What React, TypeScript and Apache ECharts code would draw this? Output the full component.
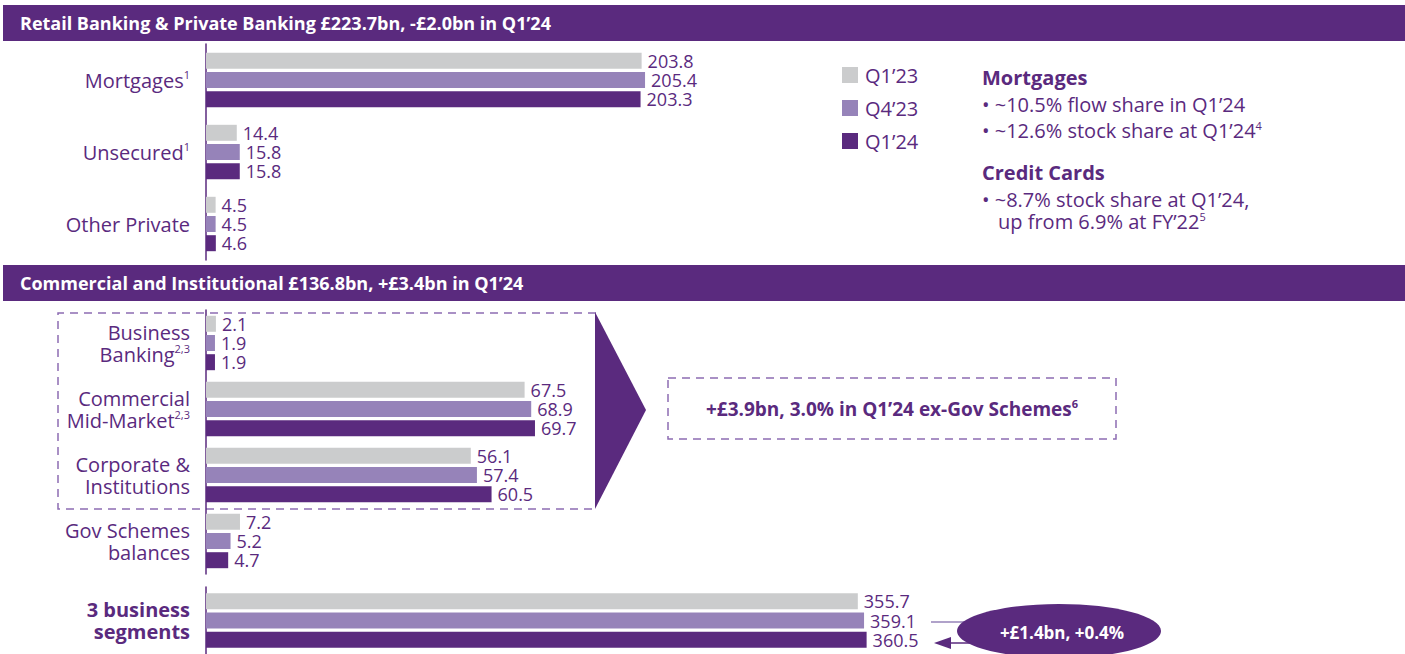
import React, { useEffect, useRef } from 'react';
import * as echarts from 'echarts';

const seriesNames = ['Q1’23', 'Q4’23', 'Q1’24'];

const retailCategories = ['Mortgages', 'Unsecured', 'Other Private'];
const retailQ123 = [203.8, 14.4, 4.5];
const retailQ423 = [205.4, 15.8, 4.5];
const retailQ124 = [203.3, 15.8, 4.6];

const commercialCategories = ['Business Banking', 'Commercial Mid-Market', 'Corporate & Institutions', 'Gov Schemes balances'];
const commercialQ123 = [2.1, 67.5, 56.1, 7.2];
const commercialQ423 = [1.9, 68.9, 57.4, 5.2];
const commercialQ124 = [1.9, 69.7, 60.5, 4.7];

const totalCategories = ['3 business segments'];
const totalQ123 = [355.7];
const totalQ423 = [359.1];
const totalQ124 = [360.5];

const labelLines: Record<string, string> = {
  'Mortgages': 'Mortgages',
  'Unsecured': 'Unsecured',
  'Other Private': 'Other Private',
  'Business Banking': 'Business\nBanking',
  'Commercial Mid-Market': 'Commercial\nMid-Market',
  'Corporate & Institutions': 'Corporate &\nInstitutions',
  'Gov Schemes balances': 'Gov Schemes\nbalances',
  '3 business segments': '3 business\nsegments',
};
const labelSup: Record<string, string> = {
  'Mortgages': '1',
  'Unsecured': '1',
  'Business Banking': '2,3',
  'Commercial Mid-Market': '2,3',
};
const boldLabels = ['3 business segments'];

const PURPLE = '#5a2a7e';
const LAVENDER = '#9683b9';
const GREY = '#cbcccd';
const DASH = '#8d6cb3';
const FONT = '"Open Sans", sans-serif';
const colors = [GREY, LAVENDER, PURPLE];

function formatCat(v: string) {
  const lines = (labelLines[v] || v).split('\n');
  const style = boldLabels.includes(v) ? 'b' : 'n';
  return lines
    .map((l, i) => `{${style}|${l}}` + (i === lines.length - 1 && labelSup[v] ? `{s|${labelSup[v]}}` : ''))
    .join('\n');
}

const richCat = {
  n: { fontSize: 20, color: PURPLE, fontFamily: FONT, lineHeight: 22 },
  b: { fontSize: 20, color: PURPLE, fontFamily: FONT, fontWeight: 'bold', lineHeight: 22 },
  s: { fontSize: 11, color: PURPLE, fontFamily: FONT, lineHeight: 11, verticalAlign: 'top' },
};

function makeSeries(gridIdx: number, data: number[][]) {
  return data.map((d, i) => ({
    type: 'bar',
    name: seriesNames[i],
    xAxisIndex: gridIdx,
    yAxisIndex: gridIdx,
    data: d,
    barWidth: 16,
    barGap: '20%',
    itemStyle: { color: colors[i] },
    label: {
      show: true,
      position: 'right',
      distance: 6,
      color: PURPLE,
      fontSize: 18,
      fontFamily: FONT,
      formatter: (p: any) => Number(p.value).toFixed(1),
    },
  }));
}

function yAxisFor(gridIdx: number, cats: string[]) {
  return {
    type: 'category',
    gridIndex: gridIdx,
    data: cats,
    inverse: true,
    axisLine: { show: true, lineStyle: { color: PURPLE, width: 1.5 } },
    axisTick: { show: false },
    axisLabel: { margin: 16, formatter: formatCat, rich: richCat },
  };
}

function xAxisFor(gridIdx: number, max: number) {
  return { type: 'value', gridIndex: gridIdx, min: 0, max, show: false, splitLine: { show: false } };
}

export default function App() {
  const ref = useRef<HTMLDivElement>(null);
  useEffect(() => {
    if (!ref.current) return;
    const chart = echarts.init(ref.current, null, { renderer: 'svg' });
    const subText = (x: number, y: number, text: string, bold = false, size = 20) => ({
      type: 'text',
      x,
      y,
      style: {
        text,
        fill: PURPLE,
        fontSize: size,
        fontWeight: bold ? 'bold' : 'normal',
        fontFamily: FONT,
        verticalAlign: 'middle',
        rich: {
          s: { fontSize: 11, fill: PURPLE, fontFamily: FONT, verticalAlign: 'top', lineHeight: 11 },
          t: { fontSize: size, fill: PURPLE, fontFamily: FONT, fontWeight: bold ? 'bold' : 'normal', lineHeight: 20 },
        },
      },
    });
    chart.setOption({
      animation: false,
      backgroundColor: '#ffffff',
      legend: {
        orient: 'vertical',
        left: 842,
        top: 65,
        padding: 0,
        itemWidth: 16,
        itemHeight: 16,
        itemGap: 13,
        icon: 'rect',
        selectedMode: false,
        data: seriesNames,
        textStyle: { color: PURPLE, fontSize: 20, fontFamily: FONT, padding: [0, 0, 0, 2] },
      },
      grid: [
        { left: 206, top: 44, width: 855, height: 216 },
        { left: 206, top: 310, width: 472, height: 264 },
        { left: 206, top: 587, width: 733, height: 72 },
      ],
      xAxis: [xAxisFor(0, 400), xAxisFor(1, 100), xAxisFor(2, 400)],
      yAxis: [yAxisFor(0, retailCategories), yAxisFor(1, commercialCategories), yAxisFor(2, totalCategories)],
      series: [
        ...makeSeries(0, [retailQ123, retailQ423, retailQ124]),
        ...makeSeries(1, [commercialQ123, commercialQ423, commercialQ124]),
        ...makeSeries(2, [totalQ123, totalQ423, totalQ124]),
      ],
      graphic: [
        { type: 'rect', shape: { x: 3, y: 5, width: 1402, height: 36 }, style: { fill: PURPLE } },
        {
          type: 'text', x: 20, y: 23,
          style: { text: 'Retail Banking & Private Banking £223.7bn, -£2.0bn in Q1’24', fill: '#ffffff', fontSize: 18, fontWeight: 'bold', fontFamily: FONT, verticalAlign: 'middle' },
        },
        { type: 'rect', shape: { x: 3, y: 265, width: 1402, height: 36 }, style: { fill: PURPLE } },
        {
          type: 'text', x: 20, y: 283,
          style: { text: 'Commercial and Institutional £136.8bn, +£3.4bn in Q1’24', fill: '#ffffff', fontSize: 18, fontWeight: 'bold', fontFamily: FONT, verticalAlign: 'middle' },
        },
        {
          type: 'polyline',
          shape: { points: [[596, 313], [58, 313], [58, 509], [596, 509]] },
          style: { stroke: DASH, lineWidth: 1.5, lineDash: [8, 6], fill: null },
        },
        { type: 'polygon', shape: { points: [[595, 312], [646, 410], [595, 509]] }, style: { fill: PURPLE } },
        {
          type: 'rect', shape: { x: 668, y: 378, width: 448, height: 61 },
          style: { fill: 'none', stroke: DASH, lineWidth: 1.5, lineDash: [8, 6] },
        },
        {
          type: 'text', x: 892, y: 409,
          style: {
            text: '{t|+£3.9bn, 3.0% in Q1’24 ex-Gov Schemes}{s|6}',
            align: 'center', verticalAlign: 'middle',
            rich: {
              t: { fontSize: 19, fontWeight: 'bold', fill: PURPLE, fontFamily: FONT, lineHeight: 22 },
              s: { fontSize: 11, fontWeight: 'bold', fill: PURPLE, fontFamily: FONT, lineHeight: 11, verticalAlign: 'top' },
            },
          },
        },
        { type: 'line', shape: { x1: 931, y1: 622, x2: 965, y2: 622 }, style: { stroke: LAVENDER, lineWidth: 1.5 } },
        { type: 'line', shape: { x1: 948, y1: 643, x2: 985, y2: 643 }, style: { stroke: PURPLE, lineWidth: 1.5 } },
        { type: 'polygon', shape: { points: [[934, 643], [951, 637], [951, 649]] }, style: { fill: PURPLE } },
        { type: 'ellipse', shape: { cx: 1059, cy: 631, rx: 102, ry: 27 }, style: { fill: PURPLE } },
        {
          type: 'text', x: 1062, y: 632,
          style: { text: '+£1.4bn, +0.4%', fill: '#ffffff', fontSize: 17, fontWeight: 'bold', fontFamily: FONT, align: 'center', verticalAlign: 'middle' },
        },
        subText(982, 77, 'Mortgages', true),
        subText(982, 104, '{t|• ~10.5% flow share in Q1’24}'),
        subText(982, 130, '{t|• ~12.6% stock share at Q1’24}{s|4}'),
        subText(982, 172, 'Credit Cards', true),
        subText(982, 199, '{t|• ~8.7% stock share at Q1’24,}'),
        subText(998, 221, '{t|up from 6.9% at FY’22}{s|5}'),
      ],
    });
    return () => chart.dispose();
  }, []);
  return <div ref={ref} style={{ position: 'fixed', left: 0, top: 0, width: 1405, height: 654, background: '#fff' }} />;
}
